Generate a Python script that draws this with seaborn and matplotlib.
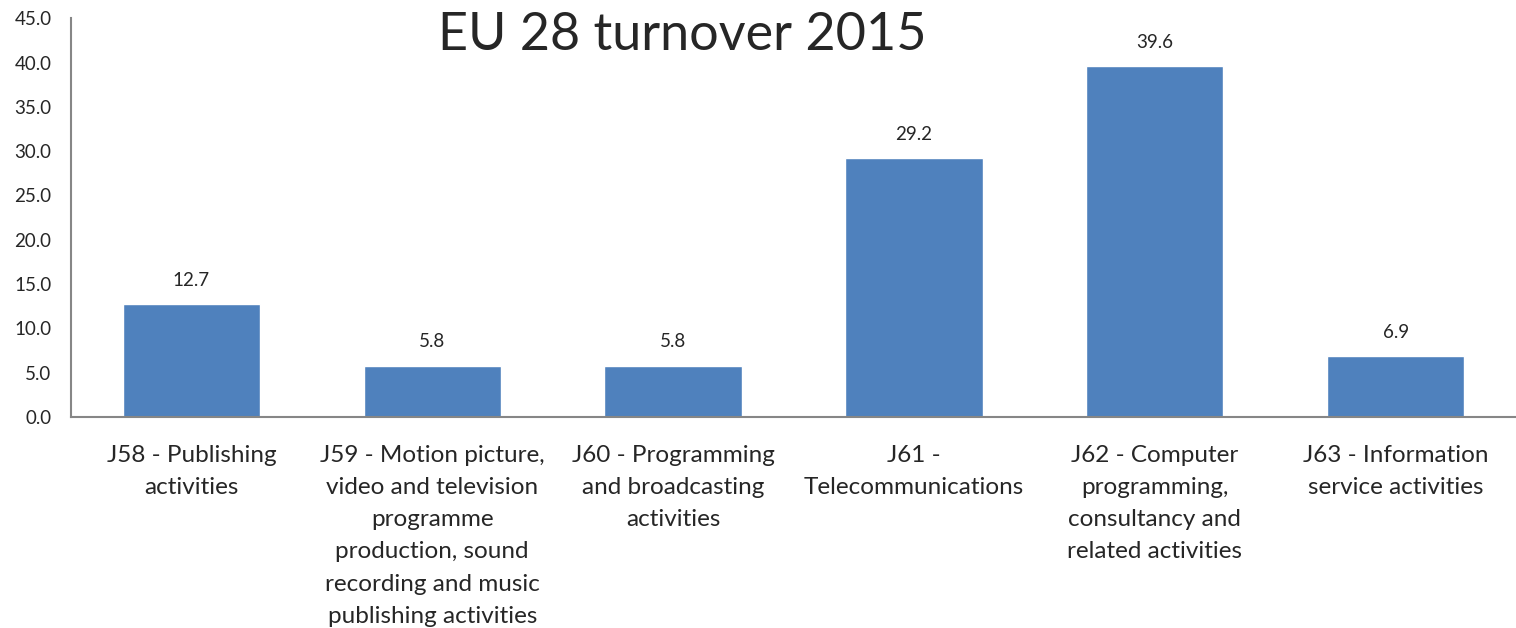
import matplotlib
matplotlib.use("Agg")
import matplotlib.pyplot as plt
import seaborn as sns
import pandas as pd

categories = [
    "J58 - Publishing\nactivities",
    "J59 - Motion picture,\nvideo and television\nprogramme\nproduction, sound\nrecording and music\npublishing activities",
    "J60 - Programming\nand broadcasting\nactivities",
    "J61 -\nTelecommunications",
    "J62 - Computer\nprogramming,\nconsultancy and\nrelated activities",
    "J63 - Information\nservice activities",
]
values = [12.7, 5.8, 5.8, 29.2, 39.6, 6.9]
yticks = [0, 5, 10, 15, 20, 25, 30, 35, 40, 45]
title = "EU 28 turnover 2015"

sns.set_style("white")
plt.rcParams["font.family"] = ["Lato", "DejaVu Sans"]

df = pd.DataFrame({"cat": categories, "val": values})

fig = plt.figure(figsize=(15.16, 6.28), dpi=100)
ax = fig.add_axes([0.0468, 0.336, 0.9532, 0.635])
sns.barplot(data=df, x="cat", y="val", color="#4F81BD", saturation=1,
            width=0.57, ax=ax)
ax.set_ylim(0, 45)
ax.set_yticks(yticks)
ax.set_yticklabels([f"{v:.1f}" for v in yticks], fontsize=13.5)
ax.tick_params(axis="both", length=0)
ax.tick_params(axis="y", pad=14)
ax.tick_params(axis="x", pad=20)
for lbl in ax.get_xticklabels():
    lbl.set_fontsize(17.5)
    lbl.set_linespacing(1.66)
ax.set_xlabel("")
ax.set_ylabel("")
for s in ["top", "right"]:
    ax.spines[s].set_visible(False)
for s in ["left", "bottom"]:
    ax.spines[s].set_color("#868686")
    ax.spines[s].set_linewidth(1.5)
for c in ax.containers:
    ax.bar_label(c, fmt="%.1f", padding=11, fontsize=13.5)
fig.text(0.45, 0.943, title, fontsize=37.5, ha="center", va="center")
fig.savefig("out.png", dpi=100)
